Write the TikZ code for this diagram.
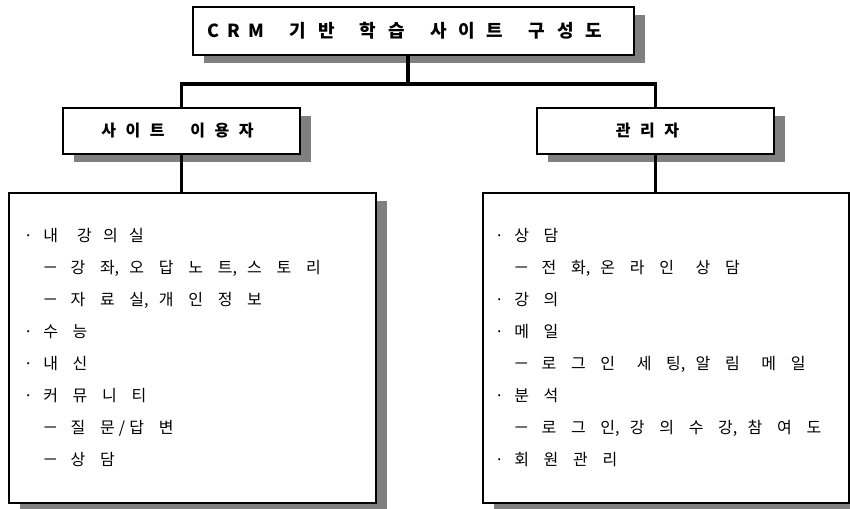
\documentclass[tikz,border=0pt]{standalone}
\usepackage{fontspec}
\newfontfamily\kr{Noto Sans CJK KR}
\usetikzlibrary{shadows}
\definecolor{shade}{HTML}{808080}
\newcommand\bul{\makebox[12pt][c]{·}\hspace{5.25pt}}
\newcommand\subd{\hspace{17.25pt}\makebox[10.5pt][c]{－}\hspace{10pt}}
\newcommand\cm{\rlap{,}}
\newcommand\slgap{\hbox to 0.92em{\hss/\hss}}
\newcommand\wg{\hspace{1.35em}}
\newcommand\wgt{\hspace{1.4em}}
\newcommand\wgl{\hspace{1.6em}}
\newcommand\trail[1]{\hspace{#1}\mbox{}}
\newcommand\ttlfont{\kr\bfseries\fontsize{13.5}{15}\selectfont\spaceskip 0.66em\relax}
\newcommand\lblfont{\kr\bfseries\fontsize{12}{14}\selectfont\spaceskip 0.6em\relax}
\newcommand\lstfont{\kr\fontsize{12}{14}\selectfont\spaceskip 0.92em\relax}
\tikzset{
  box/.style={draw=black, line width=0.9pt, fill=white, inner sep=0pt,
    drop shadow={shadow xshift=8pt, shadow yshift=-5.8pt, fill=shade, opacity=1}},
  conn/.style={line width=2.5pt, line join=miter},
  lst/.style={anchor=base west, inner sep=0pt},
}
\begin{document}
\begin{tikzpicture}[x=0.75pt,y=-0.75pt]
\useasboundingbox (0,0) rectangle (850,508);
% boxes
\node[box, minimum width=330.75pt, minimum height=36pt] (title) at (413.5,31)
  {\ttlfont C\hspace{0.45em}R\hspace{0.45em}M\wgt 기 반\wgt 학 습\wgt 사 이 트\wgt 구 성 도\trail{12.75pt}};
\node[box, minimum width=177.75pt, minimum height=34.5pt] (user) at (181.5,131)
  {\lblfont 사 이 트\wgl 이 용 자\trail{6pt}};
\node[box, minimum width=177.75pt, minimum height=34.5pt] (admin) at (655.5,131)
  {\lblfont 관 리 자\trail{12pt}};
\node[box, minimum width=275.25pt, minimum height=232.5pt] (ulist) at (192.5,348) {};
\node[box, minimum width=274.5pt, minimum height=232.5pt] (alist) at (666,348) {};
% connectors
\coordinate (hub) at (408,84);
\draw[conn] (hub |- title.south) -- (hub);
\draw[conn] (user.north) |- (hub) -| (admin.north);
\draw[conn] (user.south) -- (user.south |- ulist.north);
\draw[conn] (admin.south) -- (admin.south |- alist.north);
% list texts
\foreach \t [count=\i] in {
  {\bul 내\hspace{1.2em}강\hspace{0.7em}의\hspace{0.7em}실},
  {\subd 강 좌\cm{} 오 답 노 트\cm{} 스 토 리},
  {\subd 자 료 실\cm{} 개 인 정 보},
  {\bul 수 능},
  {\bul 내 신},
  {\bul 커 뮤 니 티},
  {\subd 질 문\slgap 답 변},
  {\subd 상 담}}
  \node[lst] (L\i) at (20,{241+32.14*(\i-1)}) {\lstfont\t};
\foreach \t [count=\i] in {
  {\bul 상 담},
  {\subd 전 화\cm{} 온 라 인\wg 상 담},
  {\bul 강 의},
  {\bul 메 일},
  {\subd 로 그 인\wg 세 팅\cm{} 알 림\wg 메 일},
  {\bul 분 석},
  {\subd 로 그 인\cm{} 강 의 수 강\cm{} 참 여 도},
  {\bul 회 원 관 리}}
  \node[lst] (R\i) at (491,{241+32.14*(\i-1)}) {\lstfont\t};
\end{tikzpicture}
\end{document}
